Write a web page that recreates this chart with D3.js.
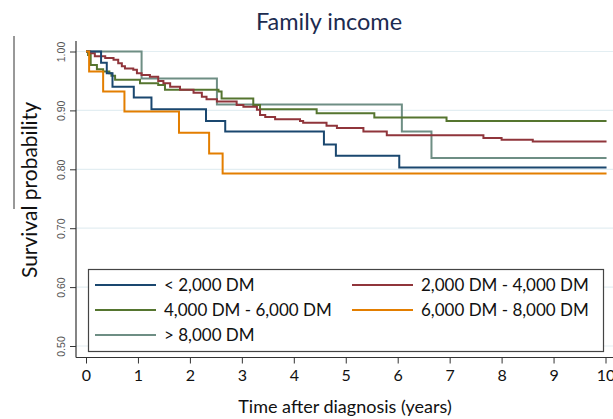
<!DOCTYPE html>
<html>
<head>
<meta charset="utf-8">
<script src="https://cdn.jsdelivr.net/npm/d3@7"></script>
<style>
  body { margin: 0; background: #fff; }
  svg { display: block; }
</style>
</head>
<body>
<script>
var width  = 613,
    height = 419;

// Series names (legend order)
var groups = ['< 2,000 DM', '2,000 DM - 4,000 DM', '4,000 DM - 6,000 DM', '6,000 DM - 8,000 DM', '> 8,000 DM'];
var colors = ['#1a476f', '#90353b', '#55752f', '#e37e00', '#6e8e84'];

// Kaplan-Meier steps: times (years) and survival after each step
var lowTimes   = [0, 0.29, 0.40, 0.51, 0.92, 1.26, 2.31, 2.68, 4.58, 4.81, 6.03, 10.02];
var lowSurv    = [1, 0.981, 0.963, 0.940, 0.922, 0.902, 0.882, 0.864, 0.842, 0.823, 0.803, 0.803];

var midTimes   = [0, 0.08, 0.17, 0.37, 0.53, 0.62, 0.69, 0.75, 0.91, 0.98, 1.07, 1.23, 1.39, 1.49, 1.62, 1.81, 2.07, 2.23, 2.32, 2.52, 2.90, 3.03, 3.29, 3.35, 3.45, 3.64, 4.12, 4.18, 4.63, 4.83, 5.34, 5.79, 7.65, 8.00, 8.60, 10.02];
var midSurv    = [1, 0.997, 0.992, 0.989, 0.986, 0.980, 0.975, 0.971, 0.969, 0.963, 0.960, 0.957, 0.950, 0.946, 0.940, 0.935, 0.930, 0.923, 0.919, 0.915, 0.909, 0.906, 0.901, 0.892, 0.889, 0.885, 0.882, 0.879, 0.874, 0.870, 0.864, 0.858, 0.853, 0.850, 0.847, 0.847];

var upTimes    = [0, 0.04, 0.09, 0.21, 0.33, 0.45, 0.49, 0.56, 1.04, 1.39, 1.52, 2.55, 2.61, 3.22, 3.35, 4.44, 5.55, 6.94, 10.02];
var upSurv     = [1, 0.994, 0.977, 0.970, 0.966, 0.963, 0.959, 0.952, 0.946, 0.943, 0.935, 0.932, 0.920, 0.909, 0.902, 0.895, 0.888, 0.882, 0.882];

var highTimes  = [0, 0.06, 0.33, 0.74, 1.79, 2.37, 2.63, 10.02];
var highSurv   = [1, 0.966, 0.932, 0.898, 0.862, 0.827, 0.793, 0.793];

var topTimes   = [0, 1.07, 2.52, 6.08, 6.65, 10.02];
var topSurv    = [1, 0.954, 0.910, 0.864, 0.819, 0.819];

var xTicks = [0, 1, 2, 3, 4, 5, 6, 7, 8, 9, 10];
var yTicks = [0.5, 0.6, 0.7, 0.8, 0.9, 1.0];

var series = [
    { times: lowTimes,  surv: lowSurv },
    { times: midTimes,  surv: midSurv },
    { times: upTimes,   surv: upSurv },
    { times: highTimes, surv: highSurv },
    { times: topTimes,  surv: topSurv }
];

// Draw order: last legend entry underneath
var drawOrder = [4, 2, 1, 0, 3];

// Scales
var xScale = d3.scaleLinear().domain([0, 10]).range([86, 605.5]);
var yScale = d3.scaleLinear().domain([0.5, 1.0]).range([346, 51.5]);

var font = 'Lato, "Open Sans", sans-serif';

var svg = d3.select('body').append('svg')
    .attr('width', width)
    .attr('height', height);

// Gridlines
svg.append('g').selectAll('line')
    .data(yTicks)
    .enter().append('line')
    .attr('x1', 76).attr('x2', width)
    .attr('y1', function(d) { return yScale(d); })
    .attr('y2', function(d) { return yScale(d); })
    .style('stroke', '#e3eef2')
    .style('stroke-width', 1.2);

// Curves
var line = d3.line()
    .x(function(d) { return xScale(d[0]); })
    .y(function(d) { return yScale(d[1]); })
    .curve(d3.curveStepAfter);

svg.append('g').selectAll('path')
    .data(drawOrder)
    .enter().append('path')
    .attr('d', function(i) {
        return line(d3.zip(series[i].times, series[i].surv));
    })
    .style('fill', 'none')
    .style('stroke', function(i) { return colors[i]; })
    .style('stroke-width', 2);

// Y axis
var yAxis = svg.append('g')
    .attr('transform', 'translate(76,0)')
    .call(d3.axisLeft(yScale).tickValues(yTicks).tickFormat(d3.format('.2f')).tickSizeOuter(0).tickSize(6));
yAxis.select('.domain').attr('d', 'M0,41V357.5');
yAxis.selectAll('line').style('stroke', '#333');
yAxis.selectAll('text')
    .attr('transform', 'rotate(-90)')
    .attr('x', 0)
    .attr('y', -11)
    .attr('dy', 0)
    .style('text-anchor', 'middle')
    .style('font-family', 'Arial, "Liberation Sans", sans-serif')
    .style('font-size', '10.5px')
    .style('fill', '#555');

// X axis
var xAxis = svg.append('g')
    .attr('transform', 'translate(0,357.5)')
    .call(d3.axisBottom(xScale).tickValues(xTicks).tickSizeOuter(0).tickSize(6));
xAxis.select('.domain').attr('d', 'M76,0H' + width);
xAxis.selectAll('line').style('stroke', '#333');
xAxis.selectAll('text')
    .attr('y', 12)
    .style('font-family', font)
    .style('font-size', '16px')
    .style('fill', '#111');
svg.selectAll('.domain').style('stroke', '#333').style('stroke-width', 1.2);

// Legend
var legend = svg.append('g');
legend.append('rect')
    .attr('x', 88.5).attr('y', 269.5)
    .attr('width', 515).attr('height', 82)
    .style('fill', '#fff')
    .style('stroke', '#444')
    .style('stroke-width', 1.2);

var entry = legend.selectAll('.entry')
    .data(groups)
    .enter().append('g')
    .attr('class', 'entry')
    .attr('transform', function(d, i) {
        return 'translate(' + (i % 2 ? 352 : 95) + ',' + (285 + Math.floor(i / 2) * 25) + ')';
    });
entry.append('line')
    .attr('x1', 0).attr('x2', 61)
    .style('stroke', function(d, i) { return colors[i]; })
    .style('stroke-width', 2);
entry.append('text')
    .attr('x', 69).attr('dy', '0.35em')
    .text(function(d) { return d; })
    .style('font-family', font)
    .style('font-size', '17px')
    .style('fill', '#111');

// Titles
svg.append('text')
    .attr('x', 329).attr('y', 30)
    .attr('text-anchor', 'middle')
    .text('Family income')
    .style('font-family', font)
    .style('font-size', '23.5px')
    .style('fill', '#1c2b50');

svg.append('text')
    .attr('x', 345).attr('y', 413)
    .attr('text-anchor', 'middle')
    .text('Time after diagnosis (years)')
    .style('font-family', font)
    .style('font-size', '18px')
    .style('fill', '#111');

svg.append('text')
    .attr('transform', 'translate(37,190) rotate(-90)')
    .attr('text-anchor', 'middle')
    .text('Survival probability')
    .style('font-family', font)
    .style('font-size', '21px')
    .style('fill', '#111');

// Stray edge line
svg.append('line')
    .attr('x1', 14).attr('x2', 14)
    .attr('y1', 36).attr('y2', 209)
    .style('stroke', '#333')
    .style('stroke-width', 1);
</script>
</body>
</html>
